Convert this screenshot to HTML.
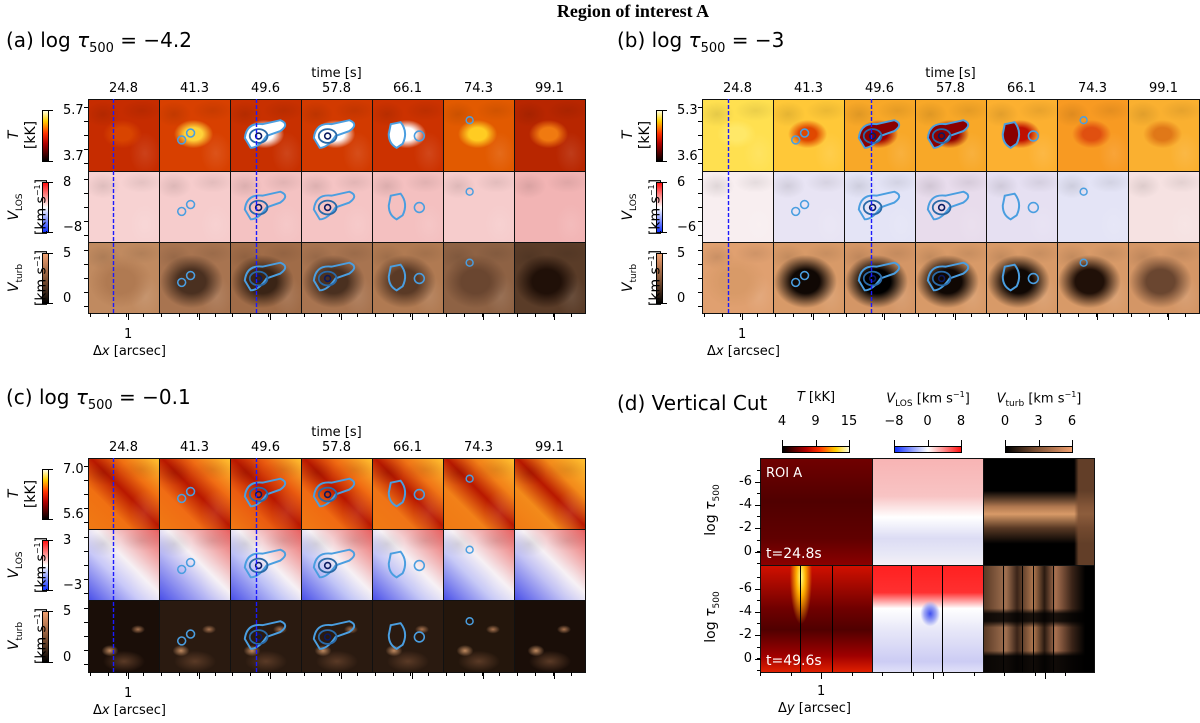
<!DOCTYPE html>
<html><head><meta charset="utf-8">
<style>
body{margin:0;background:#fff;}
#fig{position:relative;width:1200px;height:723px;overflow:hidden;background:#fff;font-family:"DejaVu Sans","Liberation Sans",sans-serif;color:#000;}
.cell{position:absolute;box-sizing:border-box;border:1px solid #111;overflow:hidden;}
.t{position:absolute;font-size:13px;white-space:nowrap;}
.rot{position:absolute;transform:rotate(-90deg);transform-origin:center;font-size:13px;white-space:nowrap;text-align:center;}
.tick{position:absolute;background:#000;}
.cb{position:absolute;border:1px solid #000;box-sizing:border-box;}
</style></head><body>
<div id="fig">
<div class="t" style="left:0;width:1266px;text-align:center;top:1px;font-family:'Liberation Serif',serif;font-weight:bold;font-size:18px;">Region of interest A</div>
<div class="t" style="left:6px;top:28px;font-size:20px;">(a) log <i>τ</i><sub style="font-size:13px">500</sub> = −4.2</div>
<div class="t" style="left:617px;top:28px;font-size:20px;">(b) log <i>τ</i><sub style="font-size:13px">500</sub> = −3</div>
<div class="t" style="left:6px;top:385px;font-size:20px;">(c) log <i>τ</i><sub style="font-size:13px">500</sub> = −0.1</div>
<div class="t" style="left:617px;top:391px;font-size:20px;">(d) Vertical Cut</div>
</div>
<script>
const times=["24.8","41.3","49.6","57.8","66.1","74.3","99.1"];
const cbTicksA=[["5.7","3.7"],["8","−8"],["5","0"]];
const cbTicksB=[["5.3","3.6"],["6","−6"],["5","0"]];
const cbTicksC=[["7.0","5.6"],["3","−3"],["5","0"]];
// base colours per cell (row x column)
const aT=["#c62c00","#d84000","#c83000","#d23a00","#cc3200","#e25a00","#b82600"];
const aTblob=["#d84400","#ffd23a","#ffffff","#ffffff","#ffffff","#ffcc22","#f07a10"];
const aV=["#f7d2d2","#f6cccc","#f4c2c2","#f5c4c4","#f4c0c0","#f6cccc","#f2b4b4"];
const aW=["#c08a60","#a87450","#a06c48","#a87450","#b07a52","#8e6244","#5a3c28"];
const aWblob=["#b07a52","#4a3020","#3a2416","#4a3020","#5a3a26","#6a4630","#201008"];
const bT=["#ffe050","#ffc838","#f8a828","#f8a828","#fcb030","#f89a22","#fab030"];
const bTblob=["#ffe868","#e04800","#a00000","#900000","#c01000","#e05010","#e07818"];
const bV=["#f8eef0","#e8e4f4","#e4e4f6","#e8dcec","#e6e0f2","#e4e4f6","#f6e2e2"];
const bW=["#e0a070","#d89a68","#d49666","#d89a68","#d89a68","#d89a68","#d49666"];
const bWblob=["#d89a68","#100804","#000000","#100804","#100804","#201008","#6a4630"];
const cT=["#f07012","#f06c14","#ea5c10","#f06a12","#f07416","#f28018","#f38a1a"];
const cV=["#c8c8f8","#b8b8f4","#bcc0f6","#c0c4f6","#c4c6f6","#c6c8f6","#c0c0f4"];
const cW=["#1a0e08","#2a1a10","#2a1a10","#2a1a10","#2a1a10","#24160c","#1a0e08"];
const dTicks=["-6","-4","-2","0"];
const dCbLabels=[["4","9","15"],["−8","0","8"],["0","3","6"]];

const fig=document.getElementById('fig');
function el(tag,cls,style,parent){const e=document.createElement(tag);if(cls)e.className=cls;if(style)e.style.cssText=style;(parent||fig).appendChild(e);return e;}

function contourSVG(col,kind){
  const ns='http://www.w3.org/2000/svg';
  const s=document.createElementNS(ns,'svg');
  s.setAttribute('width','100%');s.setAttribute('height','100%');s.setAttribute('viewBox','0 0 71 71');
  s.setAttribute('style','position:absolute;left:0;top:0');
  let h='';
  const L='#4a9ee0',M='#2a6aa8',D='#0a1a60';
  const fillIn=kind==='aT'?'#fff':(kind==='bT'?'#8a0000':'none');
  if(col===1){h+=`<circle cx="22" cy="40" r="4" fill="none" stroke="${L}" stroke-width="1.6"/><circle cx="31" cy="33" r="4" fill="none" stroke="${L}" stroke-width="1.6"/>`;}
  if(col===2||col===3){
    const cx=col===2?28:26;
    h+=`<path d="M${cx-14},38 Q${cx-12},22 ${cx+4},24 L${cx+22},20 Q${cx+32},24 ${cx+22},31 L${cx+8},36 Q${cx},48 ${cx-8},48 Z" fill="${fillIn}" stroke="${L}" stroke-width="2"/>`;
    h+=`<ellipse cx="${cx}" cy="36" rx="9" ry="7" fill="none" stroke="${M}" stroke-width="1.8"/>`;
    h+=`<ellipse cx="${cx}" cy="36" rx="3" ry="3" fill="none" stroke="${D}" stroke-width="1.6"/>`;
  }
  if(col===4){h+=`<path d="M18,24 L28,22 Q36,32 30,44 L24,48 Q16,44 16,34 Z" fill="${fillIn}" stroke="${L}" stroke-width="2"/><circle cx="47" cy="36" r="5" fill="none" stroke="${L}" stroke-width="1.6"/>`;}
  if(col===5){h+=`<circle cx="26" cy="20" r="3.5" fill="none" stroke="${L}" stroke-width="1.5"/>`;}
  s.innerHTML=h;return s;
}
const tex='radial-gradient(ellipse 25% 18% at 20% 20%, rgba(0,0,0,0.10), transparent), radial-gradient(ellipse 22% 30% at 80% 75%, rgba(255,255,255,0.10), transparent), radial-gradient(ellipse 30% 15% at 75% 15%, rgba(0,0,0,0.08), transparent)';

function panel(id,left,tops,colBases,blobs,kinds,cbTicks,cbGrads,dashCols){
  const colW=71;
  const tl=el('div','t',`left:${left+colW*2.5}px;top:${tops[0]-33}px;width:${colW*2}px;text-align:center`);
  tl.textContent='time [s]';
  
  
  times.forEach((tm,i)=>{
    const t=el('div','t',`left:${left+i*colW}px;top:${tops[0]-18}px;width:${colW}px;text-align:center`);
    t.textContent=tm;
    
    
  });
  for(let r=0;r<3;r++){
    const top=tops[r],h=tops[r+1]-tops[r];
    for(let c=0;c<7;c++){
      const base=colBases[r][c];
      let bg;
      if(kinds[r]==='cT'){bg=`${tex}, linear-gradient(45deg, #f07a14 0%, ${base} 30%, #b81800 52%, ${base} 72%, #ffc030 100%)`;}
      else if(kinds[r]==='cV'){bg=`${tex}, linear-gradient(45deg, #4a50e8 0%, ${base} 35%, #f6f0f4 55%, #f0a0a0 80%, #e86060 100%)`;}
      else if(kinds[r]==='cW'){bg=`radial-gradient(ellipse 12% 8% at 30% 70%, #c08a60, transparent), radial-gradient(ellipse 10% 6% at 70% 40%, #a87450, transparent), radial-gradient(ellipse 30% 15% at 50% 85%, #5a3a26, transparent), ${base}`;}
      else {
        const b=blobs&&blobs[r]?blobs[r][c]:base;
        const big=(kinds[r]==='aW'||kinds[r]==='bW');
        const sz=big?'ellipse 45% 38% at 45% 55%':'ellipse 28% 20% at 48% 48%';
        bg=`radial-gradient(${sz}, ${b} 0%, ${b} 45%, transparent 100%), ${tex}, ${base}`;
      }
      const cell=el('div','cell',`left:${left+c*colW}px;top:${top}px;width:${colW+1}px;height:${h+1}px;background:${bg}`);
      
      
      if(c>=1&&c<=5)cell.appendChild(contourSVG(c,kinds[r]));
    }
    const cb=el('div','cb',`left:${left-46}px;top:${top+11}px;width:7px;height:${h-20}px;background:${cbGrads[r]}`);
    
    
    const t1=el('div','t',`left:${left-25}px;top:${top+4}px`);t1.textContent=cbTicks[r][0];
    
    
    const t2=el('div','t',`left:${left-25}px;top:${top+h-22}px`);t2.textContent=cbTicks[r][1];
    
    
    el('div','tick',`left:${left-39}px;top:${top+11}px;width:4px;height:1px`);
    el('div','tick',`left:${left-39}px;top:${top+h-10}px;width:4px;height:1px`);
    const labs=['<i>T</i><br>[kK]','<i>V</i><sub style="font-size:9px">LOS</sub><br>[km s<sup style="font-size:8px">−1</sup>]','<i>V</i><sub style="font-size:9px">turb</sub><br>[km s<sup style="font-size:8px">−1</sup>]'];
    const rl=el('div','rot',`left:${left-114}px;top:${top+h/2-18}px;width:100px;height:36px;line-height:17px;font-size:14px`);
    rl.innerHTML=labs[r];
    
    
    for(let k=0;k<5;k++)el('div','tick',`left:${left-4}px;top:${top+8+k*14}px;width:4px;height:1px`);
  }
  const ns='http://www.w3.org/2000/svg';
  dashCols.forEach(x=>{
    const s=document.createElementNS(ns,'svg');
    s.setAttribute('width','3');s.setAttribute('height',tops[3]-tops[0]);
    s.setAttribute('style',`position:absolute;left:${x-1}px;top:${tops[0]}px`);
    
    
    s.innerHTML=`<line x1="1.5" y1="0" x2="1.5" y2="${tops[3]-tops[0]}" stroke="#1a1aff" stroke-width="1.4" stroke-dasharray="4,2"/>`;
    fig.appendChild(s);
  });
  const bot=tops[3];
  for(let x=left+2;x<left+7*colW;x+=17.8)el('div','tick',`left:${Math.round(x)}px;top:${bot}px;width:1px;height:4px`);
  for(let c=0;c<7;c++)el('div','tick',`left:${left+c*colW+40}px;top:${bot}px;width:1px;height:7px`);
  const one=el('div','t',`left:${left+36}px;top:${bot+14}px`);one.textContent='1';
  
  
  const xt=el('div','t',`left:${left+5}px;top:${bot+31}px`);xt.innerHTML='Δ<i>x</i> [arcsec]';
  
  
}
const hot='linear-gradient(to top,#000 0%,#b00000 35%,#ff3000 55%,#ffd000 80%,#ffffe0 100%)';
const bwr='linear-gradient(to top,#1030ff 0%,#ffffff 50%,#ff1010 100%)';
const cop='linear-gradient(to top,#000 0%,#7a4e32 45%,#f0a070 100%)';
const G=[hot,bwr,cop];
panel('panel-a',88,[99,171,242,313],[aT,aV,aW],[aTblob,null,aWblob],['aT','aV','aW'],cbTicksA,G,[113,256]);
panel('panel-b',702,[99,171,242,313],[bT,bV,bW],[bTblob,null,bWblob],['bT','bV','bW'],cbTicksB,G,[728,871]);
panel('panel-c',88,[458,529,600,672],[cT,cV,cW],[null,null,null],['cT','cV','cW'],cbTicksC,G,[113,256]);

// Panel d
const dCols=[760,872,983,1094];
const dRows=[458,565,672];
const dBg=[
 ['linear-gradient(to bottom,#700000 0%,#500000 40%,#600000 75%,#8a0000 100%)',
  'linear-gradient(to bottom,#f8b4b4 0%,#f8c4c4 35%,#ffffff 55%,#dcdcf4 75%,#e8e8f6 90%,#f4f0f6 100%)',
  'linear-gradient(to right,transparent 0%,transparent 82%,rgba(122,78,50,0.8) 86%,rgba(122,78,50,0.8) 100%),linear-gradient(to bottom,#000 0%,#000 30%,#b07850 45%,#d89a68 52%,#5a3a25 65%,#000 80%,#000 100%)'],
 ['radial-gradient(ellipse 10% 45% at 36% 10%,#ffff80 0%,#ffb000 40%,transparent 100%),linear-gradient(to bottom,#d01000 0%,#700000 40%,#500000 60%,#a00000 85%,#e02000 100%)',
  'radial-gradient(ellipse 9% 12% at 52% 45%,#4050f0 0%,#a0a8f4 60%,transparent 100%),linear-gradient(to bottom,#ff2020 0%,#ff3030 25%,#ffffff 40%,#e8e8f8 60%,#ccccf4 90%,#e0e0f8 100%)',
  'linear-gradient(to bottom,transparent 0%,transparent 40%,rgba(0,0,0,0.85) 45%,rgba(0,0,0,0.85) 52%,transparent 58%,transparent 80%,rgba(0,0,0,0.9) 85%,rgba(0,0,0,0.9) 100%),linear-gradient(to right,#5a3a25 0%,#a07050 20%,#3a2418 30%,#b07850 45%,#2a1a10 55%,#a87050 65%,#3a2418 80%,#000 92%,#000 100%)']
];
for(let r=0;r<2;r++)for(let c=0;c<3;c++){
  const cell=el('div','cell',`left:${dCols[c]}px;top:${dRows[r]}px;width:${dCols[c+1]-dCols[c]+1}px;height:${dRows[r+1]-dRows[r]+1}px;background:${dBg[r][c]}`);
  
  
}
[800,832,911,942,1003,1022,1033,1053].forEach(x=>{el('div','tick',`left:${x}px;top:566px;width:1px;height:106px`);});
const roi=el('div','t',`left:766px;top:466px;color:#fff`);roi.textContent='ROI A';

const ta=el('div','t',`left:766px;top:546px;color:#fff;font-size:14px`);ta.textContent='t=24.8s';

const tb=el('div','t',`left:766px;top:653px;color:#fff;font-size:14px`);tb.textContent='t=49.6s';

for(let r=0;r<2;r++){
  dTicks.forEach((lab,i)=>{
    const y=dRows[r]+24+i*23.2;
    const t=el('div','t',`left:730px;top:${y-8}px;width:22px;text-align:right`);t.textContent=lab;
    
    el('div','tick',`left:755px;top:${Math.round(y)}px;width:6px;height:1px`);
  });
  for(let k=0;k<9;k++)el('div','tick',`left:757px;top:${dRows[r]+12+k*11.6}px;width:3px;height:1px`);
  const yl=el('div','rot',`left:673px;top:${dRows[r]+42}px;width:80px;height:20px;font-size:14px`);
  yl.innerHTML='log <i>τ</i><sub style="font-size:9px">500</sub>';
  
}
for(let x=760;x<1094;x+=30.5)el('div','tick',`left:${Math.round(x)}px;top:672px;width:1px;height:4px`);
[821,933,1045].forEach(x=>el('div','tick',`left:${x}px;top:672px;width:1px;height:7px`));
const d1=el('div','t',`left:817px;top:684px`);d1.textContent='1';

const dx=el('div','t',`left:778px;top:701px`);dx.innerHTML='Δ<i>y</i> [arcsec]';

const cbX=[782,894,1005];
const cbTitles=['<i>T</i> [kK]','<i>V</i><sub style="font-size:9px">LOS</sub> [km s<sup style="font-size:8px">−1</sup>]','<i>V</i><sub style="font-size:9px">turb</sub> [km s<sup style="font-size:8px">−1</sup>]'];
const cbH=['linear-gradient(to right,#000,#b00000 35%,#ff3000 55%,#ffd000 80%,#ffffe0)','linear-gradient(to right,#1030ff,#fff 50%,#ff1010)','linear-gradient(to right,#000,#7a4e32 45%,#f0a070)'];
for(let i=0;i<3;i++){
  const cb=el('div','cb',`left:${cbX[i]}px;top:446px;width:68px;height:7px;background:${cbH[i]}`);
  
  const tt=el('div','t',`left:${cbX[i]-40}px;top:390px;width:148px;text-align:center`);tt.innerHTML=cbTitles[i];
  
  dCbLabels[i].forEach((lab,j)=>{
    const x=cbX[i]+j*33.5;
    const t=el('div','t',`left:${x-15}px;top:414px;width:30px;text-align:center`);t.textContent=lab;
    
    el('div','tick',`left:${Math.round(x)}px;top:440px;width:1px;height:6px`);
  });
}
</script>
</body></html>
